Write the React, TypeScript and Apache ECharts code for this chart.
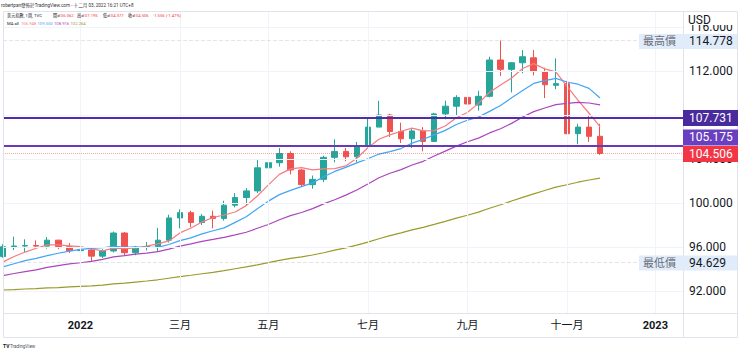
import React, { useEffect, useRef } from 'react';
import * as echarts from 'echarts';

// Weekly bars (Monday of each week)
const weekStarts = [
  '2021-11-15', '2021-11-22', '2021-11-29', '2021-12-06', '2021-12-13', '2021-12-20', '2021-12-27',
  '2022-01-03', '2022-01-10', '2022-01-17', '2022-01-24', '2022-01-31',
  '2022-02-07', '2022-02-14', '2022-02-21', '2022-02-28',
  '2022-03-07', '2022-03-14', '2022-03-21', '2022-03-28',
  '2022-04-04', '2022-04-11', '2022-04-18', '2022-04-25',
  '2022-05-02', '2022-05-09', '2022-05-16', '2022-05-23', '2022-05-30',
  '2022-06-06', '2022-06-13', '2022-06-20', '2022-06-27',
  '2022-07-04', '2022-07-11', '2022-07-18', '2022-07-25',
  '2022-08-01', '2022-08-08', '2022-08-15', '2022-08-22', '2022-08-29',
  '2022-09-05', '2022-09-12', '2022-09-19', '2022-09-26',
  '2022-10-03', '2022-10-10', '2022-10-17', '2022-10-24', '2022-10-31',
  '2022-11-07', '2022-11-14', '2022-11-21', '2022-11-28',
];
const opens = [
  95.13, 96.03, 96.09, 96.14, 96.08, 96.62, 96.03,
  95.67, 95.73, 95.17, 95.64, 97.27,
  95.48, 95.99, 96.04, 96.62,
  98.64, 99.12, 98.23, 98.79,
  98.6, 99.8, 100.5, 101.1,
  103.2, 103.66, 104.5, 103.0, 101.67,
  102.15, 104.15, 104.69, 104.2,
  105.14, 106.9, 108.0, 106.5,
  105.84, 106.55, 105.6, 108.1, 108.8,
  109.6, 108.9, 109.7, 113.0,
  112.15, 112.75, 113.2, 111.95, 110.7,
  110.85, 106.3, 106.9, 106.062,
];
const highs = [
  96.25, 96.94, 96.7, 96.6, 96.9, 96.66, 96.35,
  96.46, 96.0, 95.8, 97.41, 97.35,
  96.1, 96.45, 97.74, 98.93,
  99.42, 99.3, 99.0, 99.3,
  100.2, 100.9, 101.35, 103.9,
  104.0, 105.0, 104.7, 103.1, 102.5,
  104.3, 105.79, 105.0, 105.55,
  107.79, 109.29, 108.1, 107.3,
  106.8, 106.9, 108.2, 109.3, 109.8,
  110.7, 110.2, 113.3, 114.778,
  112.8, 113.9, 113.9, 112.3, 113.15,
  111.1, 107.2, 107.99, 107.195,
];
const lows = [
  95.02, 95.72, 95.55, 95.85, 95.85, 95.8, 95.45,
  95.3, 94.629, 95.0, 95.5, 95.2,
  95.25, 95.7, 95.55, 96.4,
  97.7, 97.8, 98.0, 97.7,
  98.4, 99.6, 99.8, 100.9,
  102.5, 103.3, 102.6, 101.45, 101.3,
  101.9, 103.7, 103.8, 103.7,
  105.1, 106.9, 106.0, 105.45,
  105.0, 104.7, 105.55, 107.6, 108.0,
  108.45, 108.4, 109.6, 111.55,
  110.05, 111.8, 111.6, 109.54, 110.35,
  106.25, 105.34, 105.55, 104.377,
];
const closes = [
  96.03, 96.09, 96.14, 96.08, 96.62, 96.03, 95.67,
  95.73, 95.17, 95.64, 97.27, 95.48,
  95.99, 96.04, 96.62, 98.64,
  99.12, 98.23, 98.79, 98.6,
  99.8, 100.5, 101.1, 103.2,
  103.66, 104.5, 103.0, 101.67, 102.15,
  104.15, 104.69, 104.2, 105.14,
  106.9, 108.0, 106.5, 105.84,
  106.55, 105.6, 108.1, 108.8, 109.6,
  109.0, 109.7, 113.0, 112.15,
  112.75, 113.3, 111.95, 110.75, 110.85,
  106.3, 106.9, 106.06, 104.506,
];
const ma5 = [
  94.65, 95.14, 95.54, 95.89, 96.19, 96.19, 96.11,
  96.03, 95.84, 95.65, 95.9, 95.86,
  95.91, 96.08, 96.28, 96.55,
  97.28, 97.73, 98.28, 98.68,
  98.91, 99.18, 99.76, 100.64,
  101.65, 102.6, 103.1, 103.22, 103.01,
  103.11, 103.13, 103.37, 104.07,
  105.02, 105.79, 106.19, 106.52,
  106.81, 106.55, 106.58, 107.0, 107.75,
  108.23, 109.06, 110.07, 110.73,
  111.37, 112.23, 112.67, 112.19, 111.92,
  110.63, 109.36, 108.16, 106.948,
];
const ma10 = [
  94.19, 94.48, 94.76, 94.97, 95.22, 95.43, 95.63,
  95.79, 95.88, 95.93, 96.05, 95.99,
  95.98, 95.97, 95.97, 96.23,
  96.58, 96.83, 97.19, 97.48,
  97.74, 98.24, 98.75, 99.47,
  100.17, 100.76, 101.15, 101.49, 101.83,
  102.38, 102.87, 103.24, 103.65,
  104.02, 104.45, 104.67, 104.95,
  105.44, 105.79, 106.19, 106.6, 107.14,
  107.52, 107.81, 108.33, 108.87,
  109.56, 110.23, 110.87, 111.13, 111.33,
  111.0, 110.8, 110.42, 109.55,
];
const ma20 = [
  93.39, 93.59, 93.76, 93.92, 94.14, 94.3, 94.46,
  94.57, 94.69, 94.87, 95.1, 95.22,
  95.35, 95.45, 95.58, 95.81,
  96.08, 96.29, 96.51, 96.69,
  96.88, 97.1, 97.34, 97.7,
  98.05, 98.48, 98.85, 99.14, 99.49,
  99.92, 100.29, 100.72, 101.18,
  101.72, 102.29, 102.7, 103.03,
  103.45, 103.79, 104.27, 104.72, 105.17,
  105.57, 105.9, 106.37, 106.75,
  107.24, 107.82, 108.31, 108.64, 108.94,
  109.05, 109.14, 109.09, 108.916,
];
const ma60 = [
  92.09, 92.13, 92.18, 92.22, 92.28, 92.31, 92.37,
  92.42, 92.46, 92.53, 92.64, 92.71,
  92.81, 92.91, 93.02, 93.16,
  93.3, 93.43, 93.57, 93.7,
  93.85, 94.02, 94.19, 94.38,
  94.58, 94.79, 94.96, 95.1, 95.27,
  95.48, 95.71, 95.92, 96.17,
  96.45, 96.75, 97.03, 97.29,
  97.56, 97.78, 98.05, 98.33, 98.62,
  98.89, 99.17, 99.52, 99.84,
  100.18, 100.51, 100.83, 101.14, 101.45,
  101.66, 101.89, 102.09, 102.264,
];

const xLabelDates = ['2022-01-03', '2022-03-07', '2022-05-02', '2022-07-04', '2022-09-05', '2022-11-07', '2023-01-02'];
const xLabelTexts = ['2022', '三月', '五月', '七月', '九月', '十一月', '2023'];
const yGridValues = [92, 96, 100, 104, 108, 112, 116];
const yTickLabels = [92, 96, 100, 104, 112, 116]; // 108.000 is fully hidden behind the 107.731 tag
const drawnLevels = [107.731, 105.175];
const periodHigh = 114.778;
const periodLow = 94.629;
const symbolText = '美元指數, 1周, TVC';
const changeText = '-1.556 (-1.47%)';
const headerText = 'robertpan發佈於TradingView.com - 十二月 03, 2022 16:21 UTC+8';

const FONT = 'Roboto, "Noto Sans CJK TC", sans-serif';
const UP = '#26a69a';
const DOWN = '#ef5350';
const MA_COLORS = ['#f77c80', '#42a5f5', '#ab47bc', '#9c9a2b'];
const DARK = '#131722';

const ORIGIN = Date.UTC(2022, 0, 3);
const toWeek = (s: string) => {
  const [y, m, d] = s.split('-').map(Number);
  return Math.round((Date.UTC(y, m - 1, d) - ORIGIN) / (7 * 864e5));
};
const weeks = weekStarts.map(toWeek);
const labelWeeks = xLabelDates.map(toWeek);

export default function App() {
  const ref = useRef<HTMLDivElement>(null);
  useEffect(() => {
    const chart = echarts.init(ref.current!, null, { renderer: 'svg' });
    const maSeries = [ma5, ma10, ma20, ma60].map((arr, j) => ({
      type: 'line',
      data: weeks.map((k, i) => [k, arr[i]]),
      symbol: 'none',
      showSymbol: false,
      silent: true,
      z: 4,
      lineStyle: { color: MA_COLORS[j], width: 1.2 },
    }));
    const last = closes.length - 1;
    chart.setOption({
      animation: false,
      backgroundColor: '#ffffff',
      grid: { left: 0.3, right: 57, top: 12, bottom: 40 },
      xAxis: {
        type: 'value',
        min: -7,
        max: 54.5,
        interval: 1,
        axisLine: { show: false },
        axisTick: { show: false },
        splitLine: { show: false },
        axisLabel: {
          margin: 7,
          fontSize: 11,
          color: DARK,
          fontFamily: FONT,
          formatter: (v: number) => {
            const idx = labelWeeks.findIndex((k) => Math.abs(k - v) < 1e-6);
            if (idx < 0) return '';
            const t = xLabelTexts[idx];
            return /^\d+$/.test(t) ? `{y|${t}}` : t;
          },
          rich: { y: { fontWeight: 'bold', fontSize: 11, color: DARK, fontFamily: FONT } },
        },
      },
      yAxis: {
        type: 'value',
        position: 'right',
        min: 90,
        max: 117.364,
        interval: 2,
        axisLine: { show: false },
        axisTick: { show: false },
        splitLine: { show: false },
        axisLabel: {
          margin: 6,
          fontSize: 12,
          color: DARK,
          fontFamily: FONT,
          formatter: (v: number) => (yTickLabels.some((t) => Math.abs(t - v) < 1e-6) ? v.toFixed(3) : ''),
        },
      },
      series: [
        {
          type: 'line',
          data: [],
          z: 1,
          silent: true,
          markLine: {
            silent: true,
            symbol: ['none', 'none'],
            label: { show: false },
            emphasis: { disabled: true },
            lineStyle: { color: '#f0f3fa', width: 1, type: 'solid' },
            data: [
              ...yGridValues.map((v) => ({ yAxis: v })),
              ...labelWeeks.map((k) => ({ xAxis: k })),
              { yAxis: periodHigh, lineStyle: { color: '#b2b5be', width: 1, type: 'dashed', opacity: 0.35 } },
              { yAxis: periodLow, lineStyle: { color: '#b2b5be', width: 1, type: 'dashed', opacity: 0.35 } },
              { yAxis: closes[last], lineStyle: { color: '#f23645', width: 1, type: 'dotted', opacity: 0.45 } },
            ],
          },
        },
        {
          type: 'candlestick',
          data: weeks.map((k, i) => [k, opens[i], closes[i], lows[i], highs[i]]),
          barWidth: 6,
          z: 3,
          silent: true,
          itemStyle: { color: UP, color0: DOWN, borderColor: UP, borderColor0: DOWN, borderWidth: 1 },
        },
        ...maSeries,
        {
          type: 'line',
          data: [],
          z: 5,
          silent: true,
          markLine: {
            silent: true,
            symbol: ['none', 'none'],
            label: { show: false },
            emphasis: { disabled: true },
            data: [
              { yAxis: drawnLevels[0], lineStyle: { color: '#512da8', width: 2, type: 'solid' } },
              { yAxis: drawnLevels[1], lineStyle: { color: '#673ab7', width: 2, type: 'solid' } },
            ],
          },
        },
      ],
    });

    const py = (v: number) => chart.convertToPixel({ yAxisIndex: 0 }, v) as number;
    const txt = (text: string, x: number, y: number, fill: string, size: number, extra: any = {}) => ({
      type: 'text',
      z: 101,
      silent: true,
      style: { text, x, y, fill, font: `${extra.weight || 'normal'} ${size}px ${FONT}`, verticalAlign: 'middle', align: extra.align || 'left' },
    });
    const box = (x: number, yc: number, w: number, h: number, fill: string) => ({
      type: 'rect',
      z: 100,
      silent: true,
      shape: { x, y: yc - h / 2, width: w, height: h },
      style: { fill },
    });
    const line = (x1: number, y1: number, x2: number, y2: number) => ({
      type: 'line',
      z: 100,
      silent: true,
      shape: { x1, y1, x2, y2 },
      style: { stroke: '#e0e3eb', lineWidth: 1 },
    });

    const yH = py(periodHigh);
    const yL = py(periodLow);
    const yA = py(drawnLevels[0]);
    const yCur = py(closes[last]);
    const yB = Math.min(py(drawnLevels[1]), yCur - 16);
    const hs = 4.2;
    const elements: any[] = [
      { type: 'rect', z: 99, silent: true, shape: { x: 0, y: 0, width: 740, height: 11.5 }, style: { fill: '#ffffff' } },
      line(3.5, 11.5, 737.5, 11.5),
      line(3.5, 11.5, 3.5, 337.5),
      line(3.5, 337.5, 737.5, 337.5),
      line(737.5, 11.5, 737.5, 337.5),
      line(3.5, 313.5, 737.5, 313.5),
      line(683.5, 11.5, 683.5, 337.5),
      { type: 'rect', z: 100, silent: true, shape: { x: 684, y: 12, width: 53, height: 13 }, style: { fill: '#ffffff' } },
      txt('USD', 688, 20, DARK, 12),
      box(639, yH + 1, 98, 15, '#e1ecfa'),
      txt('最高價', 643, yH + 1, '#6a6d78', 11),
      txt(periodHigh.toFixed(3), 689, yH + 1, DARK, 12),
      box(639, yL + 1, 98, 15, '#e1ecfa'),
      txt('最低價', 643, yL + 1, '#6a6d78', 11),
      txt(periodLow.toFixed(3), 689, yL + 1, DARK, 12),
      box(683, yA, 55, 16, '#4a2b9e'),
      txt(drawnLevels[0].toFixed(3), 689, yA, '#ffffff', 12),
      box(683, yB, 55, 16, '#6a40c0'),
      txt(drawnLevels[1].toFixed(3), 689, yB, '#ffffff', 12),
      box(683, yCur + 0.5, 55, 16, '#f23645'),
      txt(closes[last].toFixed(3), 689, yCur + 0.5, '#ffffff', 12),
      // header
      txt(headerText, 1, 5, '#333333', 4.6),
      txt(symbolText, 7, 15.6, DARK, hs),
      txt('開=', 53, 15.6, DARK, hs),
      txt(opens[last].toFixed(3), 58.5, 15.6, '#f23645', hs),
      txt('高=', 77, 15.6, DARK, hs),
      txt(highs[last].toFixed(3), 82.5, 15.6, '#f23645', hs),
      txt('低=', 103, 15.6, DARK, hs),
      txt(lows[last].toFixed(3), 108.5, 15.6, '#f23645', hs),
      txt('收=', 128, 15.6, DARK, hs),
      txt(closes[last].toFixed(3), 133.5, 15.6, '#f23645', hs),
      txt(changeText, 153, 15.6, '#f23645', hs),
      txt('MA all', 7, 23.5, DARK, hs),
      txt(ma5[last].toFixed(3), 21, 23.5, MA_COLORS[0], hs),
      txt(ma10[last].toFixed(3), 37.5, 23.5, MA_COLORS[1], hs),
      txt(ma20[last].toFixed(3), 54, 23.5, MA_COLORS[2], hs),
      txt(ma60[last].toFixed(3), 70.5, 23.5, MA_COLORS[3], hs),
      // footer
      txt('TV', 3, 346, DARK, 5, { weight: 'bold' }),
      txt('TradingView', 10, 346, '#50535e', 4.6),
    ];
    chart.setOption({ graphic: elements });
    return () => chart.dispose();
  }, []);
  return <div ref={ref} style={{ position: 'fixed', left: 0, top: 0, width: 740, height: 353 }} />;
}
